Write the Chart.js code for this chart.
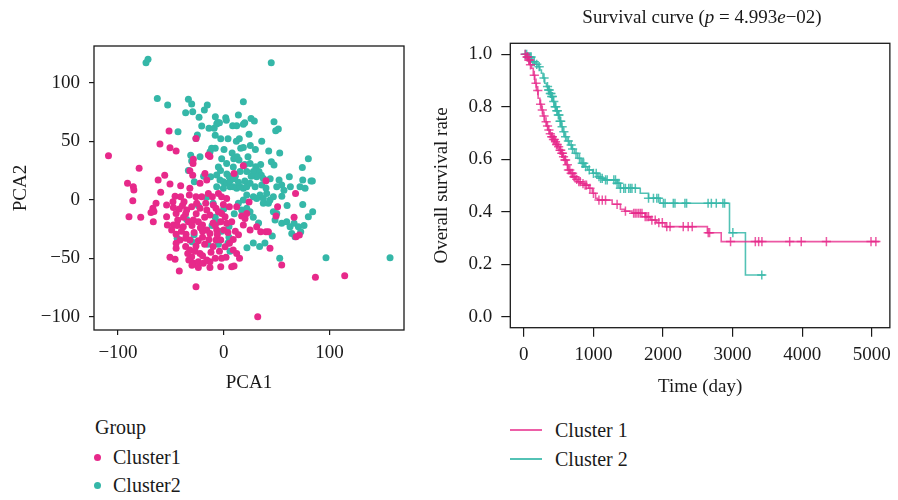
<!DOCTYPE html>
<html>
<head>
<meta charset="utf-8">
<script src="https://cdn.jsdelivr.net/npm/chart.js@4.4.1/dist/chart.umd.min.js"></script>
<style>
    body { margin: 0; background: #fff; }
    #wrap { position: relative; width: 898px; height: 500px; font-family: "Liberation Serif", "DejaVu Serif", serif; color: #1a1a1a; }
    canvas { position: absolute; top: 0; }
    .txt { position: absolute; font-size: 20px; line-height: 1; white-space: nowrap; }
    .dot { position: absolute; width: 7px; height: 7px; border-radius: 50%; }
    .swatch { position: absolute; width: 32px; height: 2px; }
</style>
</head>
<body>
<div id="wrap">
    <canvas id="pcaChart" width="430" height="400" style="left:0"></canvas>
    <canvas id="survChart" width="468" height="400" style="left:430px"></canvas>

    <div class="txt" style="left:510px; width:384px; top:7px; text-align:center; font-size:19px;">Survival curve (<i>p</i> = 4.993<i>e</i>−02)</div>

    <div class="txt" style="left:95px; top:417px;">Group</div>
    <div class="dot" style="left:94px; top:454px; background:#E7298A;"></div>
    <div class="txt" style="left:113px; top:447px;">Cluster1</div>
    <div class="dot" style="left:94px; top:482px; background:#35B7A8;"></div>
    <div class="txt" style="left:113px; top:475px;">Cluster2</div>

    <div class="swatch" style="left:510px; top:429px; background:rgba(231,41,138,0.75);"></div>
    <div class="txt" style="left:555px; top:420px;">Cluster 1</div>
    <div class="swatch" style="left:510px; top:458px; background:rgba(53,183,168,0.85);"></div>
    <div class="txt" style="left:555px; top:449px;">Cluster 2</div>
</div>

<script>
// ---- PCA scatter data (PCA1, PCA2) ----
const cluster1PCA = [
    [-109,37.6],[-80,26.8],[-91,14],[-85.5,11],[-85,8.3],[-86,-1],[-89.6,-14.5],[-78.5,-15],
    [-51.7,58.7],[-60.3,47.6],[-50.8,44.4],[-45,41.6],[-55.8,21],[-62,16.8],[-59.6,6.3],[-50.8,13.4],[-40.7,12],
    [-67,-7.4],[-66,-10],[-64,-3],[-68.8,-11],[-66.6,-18.8],[-54,-4.6],[-47.6,-6.6],[-46,3],[-48,-1.7],
    [-54,-14.5],[-53.3,-21.7],[-47.6,-21.7],[-45,-11.7],[-43.5,-17.4],[-49.2,-25.9],[-45,-29.6],[-41.3,-34.5],
    [-45,-37.3],[-45,-41.6],[-50.8,-49.3],[-46,-51],[-42,-61],[-32,-43],[-30.3,-48.7],[-26.2,-74.4],
    [-33,-51.6],[-28.7,-54.4],[-24,-53],[-19.2,-54.4],[-16,-51.6],[-13,-53],[-22.4,-45.9],[-26.2,-39.6],
    [-32,-34.5],[-35.6,-29.6],[-38.2,-23.1],[-33.4,-18.8],[-28.7,-17.4],[-24,-18.8],[-20,-21.7],[-16,-25.9],
    [-13,-28.8],[-7.3,-34.5],[-2.8,-34.5],[1.3,-40.2],[5.4,-37.3],[9,-43],[12.3,-45.9],[-2.8,-57.3],
    [7.6,-57.3],[9.8,-56.7],[2.2,-49.3],[-6.6,-25.9],[-13,-13.1],[-16,-8.8],[-22.4,-7.4],[-25.6,-3.1],
    [-30.3,-6],[-35,-8.8],[-37.5,-1.7],[-32.5,4],[-26.2,2.6],[-20.8,2.6],[-14.5,5.4],[-10.7,2.6],[-9.8,-4.6],
    [-7.3,-7.4],[-5,-10.3],[-2,-11.7],[1.3,-14.5],[-2.8,-18.8],[2.8,-20.2],[7.6,-18.8],[5.4,-6],[-0.3,-4],
    [2.8,1.1],[12.3,-6],[17,-14],[20.2,-16],[21.8,-11.7],[18.6,-21.7],[25,-25.9],[31.2,-23.1],[35,-27.4],
    [40,-27.4],[42.3,-27.4],[43.8,-41.6],[54.9,-55.8],[32.2,-100],[86.8,-66.4],[114.5,-65],[66.6,-15],
    [68.5,-31.6],[71.6,-30.2],[51,-6],[49.5,-14],[68,5.4],[40,16.2],[18.6,29],[9.8,22.5],[-14.5,38.2],
    [-13,37],[-26.2,52.4],[-28.7,34.5],[-29,31],[-32,24.8],[-29.3,21],[-22.4,14],[-17.7,22.5],[-16,16.8],
    [-32,9.7],[-40.7,2.6],[-5,5.4],[-2,2.6],[-39,-5],[-20,-32],[-10,-40],[-28,-28],[-12,-45],[-4,-44],
    [-20,-48],[-36,-40],[24,-2],[11,-27],
    [-36,-12],[-30,-22],[-26,-12],[-18,-15],[-10,-20],[-6,-30],[-24,-35],[-18,-38],[-8,-50],[-2,-50],
    [-36,-33],[-40,-27],[-34,-46],[-20,-27],[-14,-34],[4,-28],[9,-34],[-30,-56],[-24,-58],[-13,-58],
    [14,-30],[-42,-8],[-38,-15],[-22,-24],[-8,-22],[0,-26],[-44,-22],[-27,-44],[15,-50],[-17,-3]
];
const cluster2PCA = [
    [-73.5,117],[-71.6,120],[45,117],[-62.8,86.6],[-53,81],[-33.4,85.8],[-30.3,81.8],[-29.3,75.2],
    [-36,74.4],[-15.5,81],[-18.3,76.6],[-23.3,70.4],[18.6,83.8],[-7.9,71],[-5.7,66],[1.9,70],[2.5,68],
    [13.9,72.4],[-20.8,63],[-13.9,61],[-9,61],[-6.6,64.7],[-4,65.8],[8.5,63.2],[12.3,63.2],[18.6,64.4],
    [19.9,65.8],[25.9,69.5],[29,67.2],[47.6,66.7],[49.2,59],[51.7,60.4],[-43.2,58],[-24.9,55.3],
    [-26.2,52.4],[-2.8,52],[4.1,52],[12,50],[14.8,52],[16.1,44],[18.6,44.7],[25.2,46.4],[30,43],
    [42.6,41.6],[53,40],[-11.4,44],[-12.9,41],[-13.9,38],[0.3,43],[9.5,35],[12.6,36.8],[14.5,34],
    [23,36.8],[25,31],[30.3,28.2],[33.4,24],[35.6,21],[45.1,32.5],[47.6,29.6],[52.4,16.8],[54.9,12.5],
    [50.2,11],[62.1,19.6],[63.1,11],[72.2,11],[77,9.7],[74.8,16.8],[80.1,35],[82.6,16],[83.9,16],
    [74.4,27.6],[-31.2,38],[-33.4,25],[-30.3,33],[-22.4,36.8],[-27.8,15.4],[-12.3,19.7],[-6.6,21.1],
    [-3.5,16.8],[-0.3,15.4],[2.8,14],[6,11.1],[9.1,11.1],[12.3,9.7],[15.5,11.1],[18.6,9.7],[21.8,11.1],
    [-6.6,11.1],[-0.3,9.7],[6,16],[-1.9,35],[2.8,31],[9.1,28],[15.5,24],[21.8,24],[28.1,24],[31.2,19.7],
    [37.5,18.2],[36,12.5],[29.7,11],[34.4,4],[37.5,1.1],[40.7,5.4],[43.8,-0.3],[47,2.6],[31.2,1.1],
    [28.1,2.6],[21.8,4],[18.6,-0.3],[13.9,-3.1],[17,-8.8],[21.8,-7.4],[24.9,-10.3],[37.5,-3.1],[42.3,-3.1],
    [47,-10.3],[50.2,-11.7],[48.6,-17.4],[54.9,-20.2],[59.6,-18.8],[62.8,-23.1],[66.6,-20.2],[70.7,-23.1],
    [74.8,-4],[80.1,-14.5],[84.2,-10.3],[76,-22],[72.9,-27.4],[64.4,-28.8],[67.5,-31.6],[46,-31],[53,-50],
    [96.8,-49.6],[157.4,-49.6],[-2,-27],[-5,-19],[-8,-15],[-11,-22],[5,-23],[5,-32],[4,-37],[6,-44],
    [-28,-30],[-30,-36],[-44,-33],[-35,-17],[-24,-5],[28,-37],[22,-41],[34,-40],[39,-37],[-19,20],
    [-8,44],[-3,25],[11,20],[57,8],[-16,2],[-10,-3],
    [5,20],[10,18],[20,16],[25,14],[14,15],[3,22],[-5,28],[8,40],[20,30],[26,20],[35,30],[40,10],
    [44,18],[55,3],[60,-5],[28,-15],[33,-20],[10,-12],[0,-8],[-5,-38],[-15,-38],[36,50],[-8,55],[24,56]
];
const pcaXTicks = [-100, 0, 100];
const pcaYTicks = [-100, -50, 0, 50, 100];

// ---- Kaplan-Meier data: event times (day) and survival after each event ----
const km1Time = [0, 30, 62, 90, 110, 135, 157, 180, 205, 230, 252, 275, 300, 325, 347, 370, 395, 420,
    442, 465, 490, 515, 537, 560, 585, 610, 632, 665, 704, 740, 775, 820, 870, 930, 984, 1031, 1060,
    1269, 1388, 1450, 1554, 1744, 1816, 1911, 2030, 2638, 2837];
const km1Surv = [1.0, 0.99, 0.978, 0.96, 0.947, 0.92, 0.89, 0.862, 0.833, 0.81, 0.788, 0.765, 0.743,
    0.727, 0.712, 0.698, 0.686, 0.676, 0.667, 0.657, 0.648, 0.635, 0.623, 0.61, 0.598, 0.58, 0.56, 0.547,
    0.534, 0.524, 0.515, 0.508, 0.502, 0.49, 0.471, 0.452, 0.445, 0.429, 0.41, 0.403, 0.395, 0.382,
    0.369, 0.359, 0.344, 0.321, 0.287];
const km1Censor = [20, 45, 55, 70, 80, 95, 150, 175, 200, 240, 265, 290, 320, 340, 360, 380, 400, 410,
    425, 440, 455, 470, 480, 500, 520, 530, 545, 555, 570, 590, 600, 625, 640, 660, 680, 700, 720, 735,
    760, 790, 810, 850, 880, 900, 950, 1000, 1079, 1127, 1174, 1340, 1460, 1578, 1600, 1625, 1650, 1675,
    1698, 1744, 1768, 1792, 1840, 1888, 1940, 1990, 2054, 2101, 2291, 2362, 2420, 2650, 2670, 2971,
    3327, 3375, 3422, 3821, 3987, 4349, 4990, 5060];
const km1End = 5110;

const km2Time = [0, 50, 110, 160, 205, 230, 252, 275, 300, 325, 347, 370, 395, 420, 442, 465, 490, 515,
    537, 560, 585, 620, 656, 690, 727, 775, 822, 870, 918, 990, 1061, 1100, 1150, 1340, 1388, 1673,
    1792, 1958, 2956, 3185];
const km2Surv = [1.0, 0.99, 0.972, 0.962, 0.953, 0.94, 0.928, 0.91, 0.89, 0.877, 0.864, 0.851, 0.839,
    0.82, 0.80, 0.785, 0.769, 0.745, 0.724, 0.705, 0.686, 0.67, 0.655, 0.64, 0.623, 0.604, 0.585, 0.572,
    0.56, 0.547, 0.534, 0.528, 0.522, 0.509, 0.49, 0.471, 0.452, 0.433, 0.321, 0.16];
const km2Censor = [20, 40, 60, 75, 90, 105, 130, 150, 185, 220, 290, 340, 355, 365, 380, 390, 400, 410,
    430, 450, 460, 475, 480, 495, 505, 520, 530, 550, 575, 600, 640, 680, 700, 750, 800, 840, 860, 890,
    940, 1000, 1040, 1080, 1103, 1127, 1174, 1198, 1293, 1317, 1340, 1365, 1388, 1436, 1460, 1507, 1531,
    1554, 1602, 1792, 1863, 1911, 1935, 2006, 2030, 2148, 2172, 2315, 2339, 2648, 2695, 2766, 2861,
    2885, 3004, 3420];
const km2End = 3470;
const survXTicks = [0, 1000, 2000, 3000, 4000, 5000];
const survYTicks = [0, 0.2, 0.4, 0.6, 0.8, 1.0];

const PINK = '#E7298A';
const TEAL = '#35B7A8';
const PINK_LINE = 'rgba(231,41,138,0.78)';
const TEAL_LINE = 'rgba(53,183,168,0.85)';
const INK = '#1a1a1a';
const FONT = { family: '"Liberation Serif", "DejaVu Serif", serif', size: 19 };

// R style box around the plot region
const frameBox = {
    id: 'frameBox',
    afterDraw(chart) {
        const { ctx, chartArea: a } = chart;
        ctx.save();
        ctx.strokeStyle = INK;
        ctx.lineWidth = 1.3;
        ctx.strokeRect(a.left, a.top, a.right - a.left, a.bottom - a.top);
        ctx.restore();
    }
};

function minusLabel(v) {
    return v < 0 ? '\u2212' + Math.abs(v) : String(v);
}

function axis(opts) {
    return {
        type: 'linear',
        min: opts.min,
        max: opts.max,
        afterBuildTicks: s => { s.ticks = opts.ticks.map(v => ({ value: v })); },
        afterFit: s => { if (opts.width) s.width = opts.width; if (opts.height) s.height = opts.height; },
        grid: { drawOnChartArea: false, drawTicks: true, tickLength: opts.tick, color: INK, lineWidth: 1.2 },
        border: { display: false },
        ticks: { autoSkip: false, maxRotation: 0, padding: opts.pad, color: INK, font: FONT, callback: opts.fmt },
        title: { display: true, text: opts.title, color: INK, font: FONT, padding: opts.titlePad }
    };
}

Chart.defaults.animation = false;

// ---- Left: PCA scatter ----
new Chart(document.getElementById('pcaChart'), {
    type: 'scatter',
    data: {
        datasets: [
            { label: 'Cluster1', data: cluster1PCA.map(p => ({ x: p[0], y: p[1] })), backgroundColor: PINK, borderWidth: 0, pointRadius: 3.5 },
            { label: 'Cluster2', data: cluster2PCA.map(p => ({ x: p[0], y: p[1] })), backgroundColor: TEAL, borderWidth: 0, pointRadius: 3.5 }
        ]
    },
    options: {
        responsive: false,
        layout: { padding: { left: 0, top: 46, right: 26, bottom: 0 } },
        plugins: { legend: { display: false }, tooltip: { enabled: false } },
        scales: {
            x: axis({ min: -122.7, max: 170.6, ticks: pcaXTicks, height: 70, tick: 5, pad: 7, fmt: minusLabel,
                title: 'PCA1', titlePad: { top: 0, bottom: 5.6 } }),
            y: axis({ min: -111.4, max: 131.4, ticks: pcaYTicks, width: 94, tick: 5, pad: 9, fmt: minusLabel,
                title: 'PCA2', titlePad: { top: 9.3, bottom: 0 } })
        }
    },
    plugins: [frameBox]
});

// ---- Right: survival curves ----
function kmPoints(times, surv, end) {
    const pts = times.map((t, i) => ({ x: t, y: surv[i] }));
    pts.push({ x: end, y: surv[surv.length - 1] });
    return pts;
}
function survAt(times, surv, t) {
    let s = surv[0];
    for (let i = 0; i < times.length; i++) {
        if (times[i] <= t) s = surv[i];
    }
    return s;
}
function censorPoints(censor, times, surv) {
    return censor.map(t => ({ x: t, y: survAt(times, surv, t) }));
}

new Chart(document.getElementById('survChart'), {
    type: 'scatter',
    data: {
        datasets: [
            { label: 'Cluster 1', data: kmPoints(km1Time, km1Surv, km1End), showLine: true, stepped: true,
              borderColor: PINK_LINE, borderWidth: 1.6, pointRadius: 0, fill: false },
            { label: 'Cluster 1 censored', data: censorPoints(km1Censor, km1Time, km1Surv), pointStyle: 'cross',
              pointRadius: 4.6, borderColor: PINK_LINE, borderWidth: 1.5 },
            { label: 'Cluster 2', data: kmPoints(km2Time, km2Surv, km2End), showLine: true, stepped: true,
              borderColor: TEAL_LINE, borderWidth: 1.6, pointRadius: 0, fill: false },
            { label: 'Cluster 2 censored', data: censorPoints(km2Censor, km2Time, km2Surv), pointStyle: 'cross',
              pointRadius: 4.6, borderColor: TEAL_LINE, borderWidth: 1.5 }
        ]
    },
    options: {
        responsive: false,
        layout: { padding: { left: 0, top: 43.3, right: 4.7, bottom: 0 } },
        plugins: { legend: { display: false }, tooltip: { enabled: false } },
        scales: {
            x: axis({ min: -195, max: 5261, ticks: survXTicks, height: 72.3, tick: 9, pad: 7, fmt: v => String(v),
                title: 'Time (day)', titlePad: { top: 0, bottom: 2 } }),
            y: axis({ min: -0.0407, max: 1.0419, ticks: survYTicks, width: 80.3, tick: 9, pad: 9, fmt: v => v.toFixed(1),
                title: 'Overall survival rate', titlePad: { top: 0.3, bottom: 0 } })
        }
    },
    plugins: [frameBox]
});
</script>
</body>
</html>
